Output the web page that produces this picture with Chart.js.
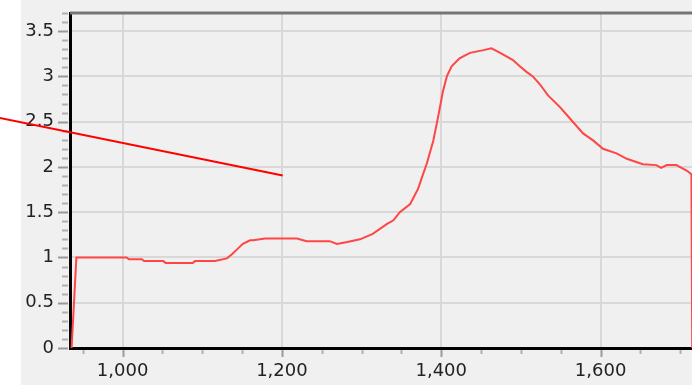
<!DOCTYPE html>
<html lang="en">
<head>
    <meta charset="UTF-8">
    <title>Signal curve</title>
    <script src="https://cdn.jsdelivr.net/npm/chart.js"></script>
    <style>
        html, body { margin: 0; padding: 0; overflow: hidden; background: #ffffff; }
    </style>
</head>
<body>
    <canvas id="curveChart" width="740" height="385"></canvas>

    <script>
// valeurs
const xValues = [936, 942, 1005, 1008, 1024, 1027, 1051, 1054, 1088, 1091, 1116, 1131, 1138, 1145, 1151, 1160,
    1164, 1179, 1219, 1231, 1260, 1269, 1282, 1298, 1314, 1332, 1340, 1348, 1361, 1371, 1376, 1382, 1390, 1396,
    1402, 1407, 1413, 1423, 1436, 1453, 1463, 1474, 1490, 1499, 1507, 1515, 1524, 1534, 1549, 1561, 1578, 1591,
    1603, 1620, 1633, 1653, 1670, 1676, 1683, 1695, 1708, 1714, 1715];
const yValues = [0, 1.0, 1.0, 0.98, 0.98, 0.96, 0.96, 0.94, 0.94, 0.96, 0.96, 0.99, 1.04, 1.1, 1.15, 1.19,
    1.19, 1.21, 1.21, 1.18, 1.18, 1.15, 1.17, 1.2, 1.26, 1.37, 1.41, 1.5, 1.59, 1.76, 1.89, 2.04, 2.29, 2.55,
    2.83, 3.0, 3.11, 3.2, 3.26, 3.29, 3.31, 3.26, 3.18, 3.11, 3.05, 3.0, 2.91, 2.79, 2.66, 2.54, 2.37, 2.29,
    2.2, 2.15, 2.09, 2.03, 2.02, 1.99, 2.02, 2.02, 1.96, 1.92, 0];

// trait rouge d'annotation
const pointerX = [846, 1201];
const pointerY = [2.54, 1.905];

// graduations
const xTicks = [1000, 1200, 1400, 1600];
const yTicks = [0, 0.5, 1, 1.5, 2, 2.5, 3, 3.5];
const xMinorStep = 50;
const yMinorStep = 0.1;

const X_MIN = 934, X_MAX = 1775, Y_MIN = 0, Y_MAX = 3.7;

// fond gris, bord du haut et petites graduations
const framePlugin = {
    id: 'framePlugin',
    beforeDraw(chart) {
        const ctx = chart.ctx;
        ctx.save();
        ctx.fillStyle = '#ffffff';
        ctx.fillRect(0, 0, chart.width, chart.height);
        ctx.fillStyle = '#f0f0f0';
        ctx.fillRect(21, 0, chart.width - 21, chart.height);
        ctx.restore();
    },
    beforeDatasetsDraw(chart) {
        const ctx = chart.ctx;
        const area = chart.chartArea;
        const xs = chart.scales.x, ys = chart.scales.y;
        ctx.save();
        ctx.lineWidth = 2;
        // y
        for (let v = Y_MIN; v <= Y_MAX + 1e-9; v += yMinorStep) {
            const r = Math.round(v * 10) / 10;
            const major = yTicks.includes(r);
            const py = Math.round(ys.getPixelForValue(r)) + 0.5;
            ctx.strokeStyle = major ? '#9a9a9a' : '#b0b0b0';
            ctx.beginPath();
            ctx.moveTo(area.left - (major ? 12 : 8), py);
            ctx.lineTo(area.left - 2, py);
            ctx.stroke();
        }
        // x
        for (let v = 950; v <= X_MAX; v += xMinorStep) {
            const major = xTicks.includes(v);
            const px = Math.round(xs.getPixelForValue(v)) + 0.5;
            ctx.strokeStyle = major ? '#9a9a9a' : '#b0b0b0';
            ctx.beginPath();
            ctx.moveTo(px, area.bottom + 2);
            ctx.lineTo(px, area.bottom + (major ? 9 : 6));
            ctx.stroke();
        }
        // bord du haut
        ctx.strokeStyle = '#757575';
        ctx.lineWidth = 3;
        ctx.beginPath();
        ctx.moveTo(area.left, area.top);
        ctx.lineTo(area.right, area.top);
        ctx.stroke();
        ctx.restore();
    }
};

function createCurveChart() {
    const ctx = document.getElementById('curveChart').getContext('2d');
    const tickFont = { family: 'DejaVu Sans', size: 18 };
    new Chart(ctx, {
        type: 'line',
        data: {
            datasets: [
                {
                    label: 'pointer',
                    data: pointerX.map((x, i) => ({ x: x, y: pointerY[i] })),
                    borderColor: '#ff0000',
                    borderWidth: 2,
                    pointRadius: 0,
                    clip: false
                },
                {
                    label: 'signal',
                    data: xValues.map((x, i) => ({ x: x, y: yValues[i] })),
                    borderColor: '#ff4545',
                    borderWidth: 2,
                    pointRadius: 0,
                    tension: 0
                }
            ]
        },
        options: {
            responsive: false,
            animation: false,
            events: [],
            layout: { padding: { top: 13, left: 0, right: 0, bottom: 0 } },
            plugins: { legend: { display: false }, tooltip: { enabled: false } },
            scales: {
                x: {
                    type: 'linear',
                    min: X_MIN,
                    max: X_MAX,
                    afterBuildTicks: s => { s.ticks = xTicks.map(v => ({ value: v })); },
                    afterFit: s => { s.height = 37; s.paddingLeft = 0; s.paddingRight = 0; },
                    grid: { color: '#d8d8d8', lineWidth: 2, drawTicks: false },
                    border: { color: '#000000', width: 3 },
                    ticks: {
                        color: '#222222',
                        font: tickFont,
                        padding: 13,
                        maxRotation: 0,
                        callback: v => v.toLocaleString('en-US')
                    }
                },
                y: {
                    type: 'linear',
                    min: Y_MIN,
                    max: Y_MAX,
                    afterBuildTicks: s => { s.ticks = yTicks.map(v => ({ value: v })); },
                    afterFit: s => { s.width = 70; s.paddingTop = 0; s.paddingBottom = 0; },
                    grid: { color: '#d8d8d8', lineWidth: 2, drawTicks: false },
                    border: { color: '#000000', width: 3 },
                    ticks: {
                        color: '#222222',
                        font: tickFont,
                        padding: 16,
                        callback: v => String(v)
                    }
                }
            }
        },
        plugins: [framePlugin]
    });
}

createCurveChart();
    </script>
</body>
</html>
